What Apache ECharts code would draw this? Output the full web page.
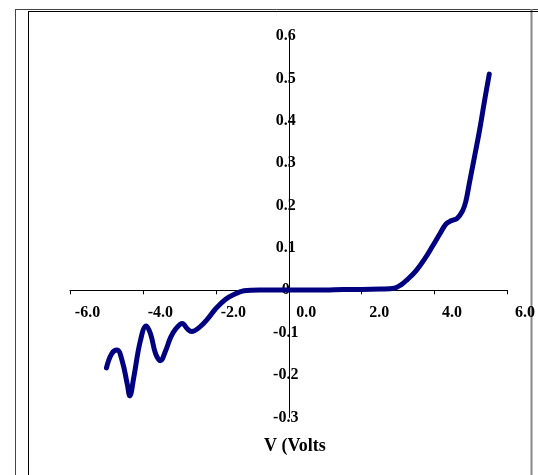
<!DOCTYPE html>
<html>
<head>
<meta charset="utf-8">
<script src="https://cdn.jsdelivr.net/npm/echarts@6/dist/echarts.min.js"></script>
<style>
html,body{margin:0;padding:0;background:#fff;}
#chart{width:538px;height:475px;}
</style>
</head>
<body>
<div id="chart"></div>
<script>
// Voltage (V) samples
const voltage = [-5.00,-4.86,-4.71,-4.57,-4.43,-4.36,-4.25,-4.07,-3.91,-3.79,-3.65,-3.52,-3.38,-3.24,-3.10,-2.92,-2.78,-2.66,-2.46,-2.23,-2.01,-1.73,-1.46,-1.23,-0.80,-0.40,0.00,0.50,1.00,1.50,2.00,2.53,2.89,3.08,3.26,3.49,3.72,3.95,4.13,4.31,4.45,4.62,4.77,4.86,4.95,5.09,5.23,5.37,5.50];
// Current values
const current = [-0.183,-0.150,-0.141,-0.166,-0.221,-0.249,-0.205,-0.119,-0.084,-0.103,-0.150,-0.166,-0.143,-0.111,-0.091,-0.078,-0.091,-0.097,-0.088,-0.068,-0.044,-0.021,-0.008,-0.001,0.001,0.001,0.001,0.001,0.001,0.002,0.002,0.003,0.005,0.013,0.026,0.046,0.073,0.105,0.131,0.156,0.164,0.170,0.188,0.211,0.251,0.313,0.376,0.447,0.510];
const xTicks = {min:-6, max:6, interval:2};
const yTicks = {min:-0.3, max:0.6, interval:0.1};
const xTitle = 'V (Volts';

const chart = echarts.init(document.getElementById('chart'), null, {renderer:'canvas'});
const font = "'Liberation Serif','Times New Roman',serif";
const pts = voltage.map((v,i)=>[v,current[i]]);
const G = {left:70, right:30.5, top:36, bottom:57.5};
const plotW = 538 - G.left - G.right, plotH = 475 - G.top - G.bottom;
// place axes through the origin via offsets derived from the axis ranges
const xAxisOffset = -plotH * (0 - yTicks.min) / (yTicks.max - yTicks.min);
const yAxisOffset = -plotW * (0 - xTicks.min) / (xTicks.max - xTicks.min);
chart.setOption({
  animation:false,
  grid:{left:G.left, right:G.right, top:G.top, bottom:G.bottom, containLabel:false},
  xAxis:{
    type:'value', min:xTicks.min, max:xTicks.max, interval:xTicks.interval,
    position:'bottom', offset:xAxisOffset,
    axisLine:{onZero:false, lineStyle:{color:'#000', width:1}},
    axisTick:{show:true, length:4, inside:false, lineStyle:{color:'#000'}},
    splitLine:{show:false},
    axisLabel:{color:'#000', fontFamily:font, fontWeight:'bold', fontSize:16, margin:15,
      padding:[0,0,0,35], align:'center',
      formatter:v=>v.toFixed(1)}
  },
  yAxis:{
    type:'value', min:yTicks.min, max:yTicks.max, interval:yTicks.interval,
    position:'left', offset:yAxisOffset,
    axisLine:{onZero:false, lineStyle:{color:'#000', width:1}},
    axisTick:{show:false},
    splitLine:{show:false},
    axisLabel:{color:'#000', fontFamily:font, fontWeight:'bold', fontSize:16, margin:3,
      align:'center',
      formatter:v=>Math.abs(v)<1e-9?'0':v.toFixed(1)}
  },
  series:[{
    type:'line', data:pts, smooth:0.4, showSymbol:false,
    lineStyle:{color:'#000080', width:5, cap:'round', join:'round'}
  }],
  graphic:[
    {type:'line', shape:{x1:15, y1:9.5, x2:538, y2:9.5}, style:{stroke:'#444', lineWidth:1}},
    {type:'line', shape:{x1:15.5, y1:9, x2:15.5, y2:475}, style:{stroke:'#444', lineWidth:1}},
    {type:'line', shape:{x1:531.5, y1:9, x2:531.5, y2:475}, style:{stroke:'#888', lineWidth:2}},
    {type:'line', shape:{x1:28, y1:11.5, x2:538, y2:11.5}, style:{stroke:'#000', lineWidth:1}},
    {type:'line', shape:{x1:28.5, y1:11, x2:28.5, y2:475}, style:{stroke:'#000', lineWidth:1}},
    {type:'text', left:264, top:437, style:{text:xTitle, fill:'#000', font:"bold 18px 'Liberation Serif','Times New Roman',serif"}}
  ]
});
</script>
</body>
</html>
